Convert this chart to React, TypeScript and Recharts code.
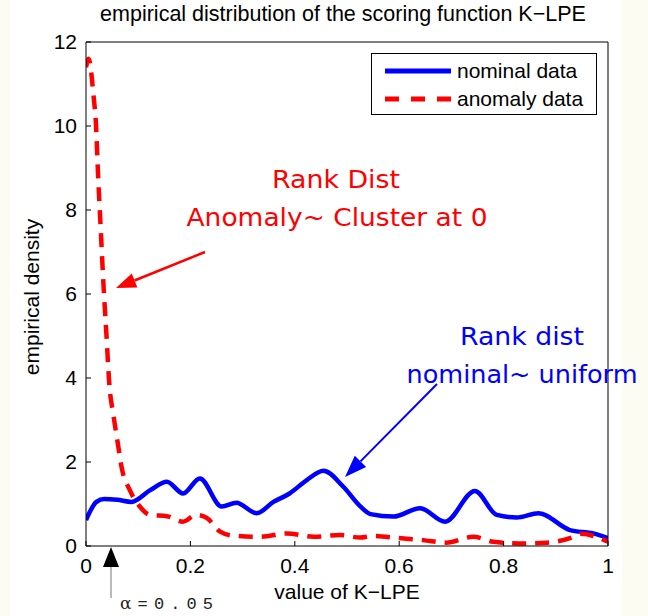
import { LineChart, Line, XAxis, YAxis, Legend } from "recharts";

const nominalX = [0, 0.02, 0.035, 0.06, 0.087, 0.123, 0.155, 0.186, 0.218, 0.26, 0.288, 0.327, 0.359, 0.39, 0.423, 0.455, 0.493, 0.525, 0.545, 0.589, 0.64, 0.688, 0.745, 0.787, 0.825, 0.867, 0.927, 0.972, 1.0];
const nominalY = [0.62, 1.05, 1.12, 1.1, 1.05, 1.33, 1.53, 1.25, 1.61, 0.94, 1.03, 0.78, 1.05, 1.25, 1.57, 1.79, 1.41, 0.95, 0.76, 0.7, 0.9, 0.58, 1.31, 0.74, 0.68, 0.78, 0.38, 0.3, 0.19];

const anomalyX = [0, 0.005, 0.0146, 0.019, 0.023, 0.028, 0.033, 0.039, 0.045, 0.052, 0.062, 0.068, 0.084, 0.103, 0.123, 0.155, 0.186, 0.211, 0.23, 0.257, 0.28, 0.334, 0.385, 0.436, 0.487, 0.525, 0.55, 0.598, 0.646, 0.69, 0.742, 0.78, 0.83, 0.882, 0.935, 0.948, 1.0];
const anomalyY = [11.4, 11.6, 10.7, 10.06, 8.87, 7.6, 6.33, 5.06, 3.8, 3.16, 2.36, 1.89, 1.33, 0.94, 0.74, 0.71, 0.58, 0.74, 0.68, 0.34, 0.25, 0.22, 0.3, 0.22, 0.26, 0.2, 0.24, 0.19, 0.14, 0.08, 0.22, 0.1, 0.06, 0.08, 0.22, 0.29, 0.1];

const xTicks = [0, 0.2, 0.4, 0.6, 0.8, 1];
const yTicks = [0, 2, 4, 6, 8, 10, 12];
const seriesNames = ["nominal data", "anomaly data"];

const nominal = nominalX.map((x, i) => ({ x, y: nominalY[i] }));
const anomaly = anomalyX.map((x, i) => ({ x, y: anomalyY[i] }));

const AXIS_FONT = "'Liberation Sans', Arial, sans-serif";
const NOTE_FONT = "'Comic Sans MS', 'DejaVu Sans', sans-serif";
const ANOMALY_DASH = "14 9";

function Arrow({ x1, y1, x2, y2, color, width, headLen, headW, lineColor }: any) {
  const dx = x2 - x1;
  const dy = y2 - y1;
  const len = Math.hypot(dx, dy);
  const ux = dx / len;
  const uy = dy / len;
  const bx = x2 - ux * headLen;
  const by = y2 - uy * headLen;
  const px = -uy * (headW / 2);
  const py = ux * (headW / 2);
  return (
    <g>
      <line x1={x1} y1={y1} x2={bx} y2={by} stroke={lineColor || color} strokeWidth={width} />
      <polygon points={`${x2},${y2} ${bx + px},${by + py} ${bx - px},${by - py}`} fill={color} />
    </g>
  );
}

function LegendBox({ payload }: any) {
  const items = [...(payload || [])].sort(
    (a: any, b: any) => seriesNames.indexOf(a.value) - seriesNames.indexOf(b.value)
  );
  return (
    <div
      style={{
        border: "1px solid #000",
        background: "#fff",
        width: 224,
        height: 60,
        fontFamily: AXIS_FONT,
        fontSize: 21,
        color: "#000",
        position: "relative",
      }}
    >
      {items.map((p: any, i: number) => (
        <div key={p.value} style={{ position: "absolute", left: 12, top: 3 + i * 28, height: 28, display: "flex", alignItems: "center" }}>
          <svg width={68} height={10}>
            <line
              x1={1}
              y1={5}
              x2={67}
              y2={5}
              stroke={p.color}
              strokeWidth={5}
              strokeDasharray={p.value === "anomaly data" ? "14 12" : undefined}
            />
          </svg>
          <span style={{ marginLeft: 5, whiteSpace: "nowrap" }}>{p.value}</span>
        </div>
      ))}
    </div>
  );
}

export default function App() {
  return (
    <div style={{ position: "absolute", left: 0, top: 0, width: 648, height: 616, background: "#fdfcf2", overflow: "hidden" }}>
      <div style={{ position: "absolute", left: 10, top: 0, width: 612, height: 616, background: "#fff" }} />
      <div style={{ position: "absolute", left: 0, top: 0 }}>
        <LineChart width={648} height={616} margin={{ top: 41, right: 39, bottom: 40, left: 10 }}>
          <XAxis
            dataKey="x"
            type="number"
            domain={[0, 1]}
            ticks={xTicks}
            height={30}
            tickSize={-5}
            tickMargin={17}
            stroke="#000"
            tick={{ fill: "#000", fontSize: 21, fontFamily: AXIS_FONT }}
            allowDataOverflow
          />
          <XAxis xAxisId="top" orientation="top" type="number" domain={[0, 1]} ticks={xTicks} height={1} tickSize={-5} tick={false} stroke="#000" />
          <YAxis
            type="number"
            domain={[0, 12]}
            ticks={yTicks}
            width={76}
            tickSize={-5}
            tickMargin={14}
            stroke="#000"
            tick={{ fill: "#000", fontSize: 21, fontFamily: AXIS_FONT }}
            allowDataOverflow
          />
          <YAxis yAxisId="right" orientation="right" type="number" domain={[0, 12]} ticks={yTicks} width={1} tickSize={-5} tick={false} stroke="#000" />
          <Legend
            layout="vertical"
            align="center"
            verticalAlign="middle"
            content={<LegendBox />}
            wrapperStyle={{ position: "absolute", left: 371, top: 53, width: 226, height: 62 }}
          />
          <Line
            data={nominal}
            dataKey="y"
            name={seriesNames[0]}
            type="monotone"
            stroke="#0000ff"
            strokeWidth={4.5}
            dot={false}
            activeDot={false}
            isAnimationActive={false}
          />
          <Line
            data={anomaly}
            dataKey="y"
            name={seriesNames[1]}
            type="monotone"
            stroke="#ff0000"
            strokeWidth={4.5}
            strokeDasharray={ANOMALY_DASH}
            dot={false}
            activeDot={false}
            isAnimationActive={false}
          />
        </LineChart>
      </div>
      <svg width={648} height={616} style={{ position: "absolute", left: 0, top: 0, pointerEvents: "none" }}>
        <text x={343} y={21} textAnchor="middle" fontFamily={AXIS_FONT} fontSize={21.5} fill="#000">
          empirical distribution of the scoring function K−LPE
        </text>
        <text x={347} y={599} textAnchor="middle" fontFamily={AXIS_FONT} fontSize={21} fill="#000">
          value of K−LPE
        </text>
        <text x={39} y={297} textAnchor="middle" fontFamily={AXIS_FONT} fontSize={21} fill="#000" transform="rotate(-90 39 297)">
          empirical density
        </text>

        <text x={336} y={188} textAnchor="middle" fontFamily={NOTE_FONT} fontSize={25} fill="#ff0000" textLength={128} lengthAdjust="spacingAndGlyphs">
          Rank Dist
        </text>
        <text x={337} y={226} textAnchor="middle" fontFamily={NOTE_FONT} fontSize={25} fill="#ff0000" textLength={301} lengthAdjust="spacingAndGlyphs">
          Anomaly~ Cluster at 0
        </text>
        <text x={522} y={345} textAnchor="middle" fontFamily={NOTE_FONT} fontSize={25} fill="#0000ff" textLength={124} lengthAdjust="spacingAndGlyphs">
          Rank dist
        </text>
        <text x={522} y={383} textAnchor="middle" fontFamily={NOTE_FONT} fontSize={25} fill="#0000ff" textLength={231} lengthAdjust="spacingAndGlyphs">
          nominal~ uniform
        </text>

        <Arrow x1={205} y1={252} x2={116} y2={288} color="#ff0000" width={2.5} headLen={20} headW={15} />
        <Arrow x1={437} y1={384} x2={345} y2={477} color="#0000ff" width={2} headLen={22} headW={16} />
        <Arrow x1={111} y1={598} x2={111} y2={547} color="#000" lineColor="#777" width={1} headLen={20} headW={16} />

        <text x={120} y={609} fontSize={17} fill="#222" textLength={93} lengthAdjust="spacing">
          <tspan fontFamily="'DejaVu Serif', serif">α</tspan>
          <tspan fontFamily="'Liberation Mono', monospace">=0.05</tspan>
        </text>
      </svg>
    </div>
  );
}
